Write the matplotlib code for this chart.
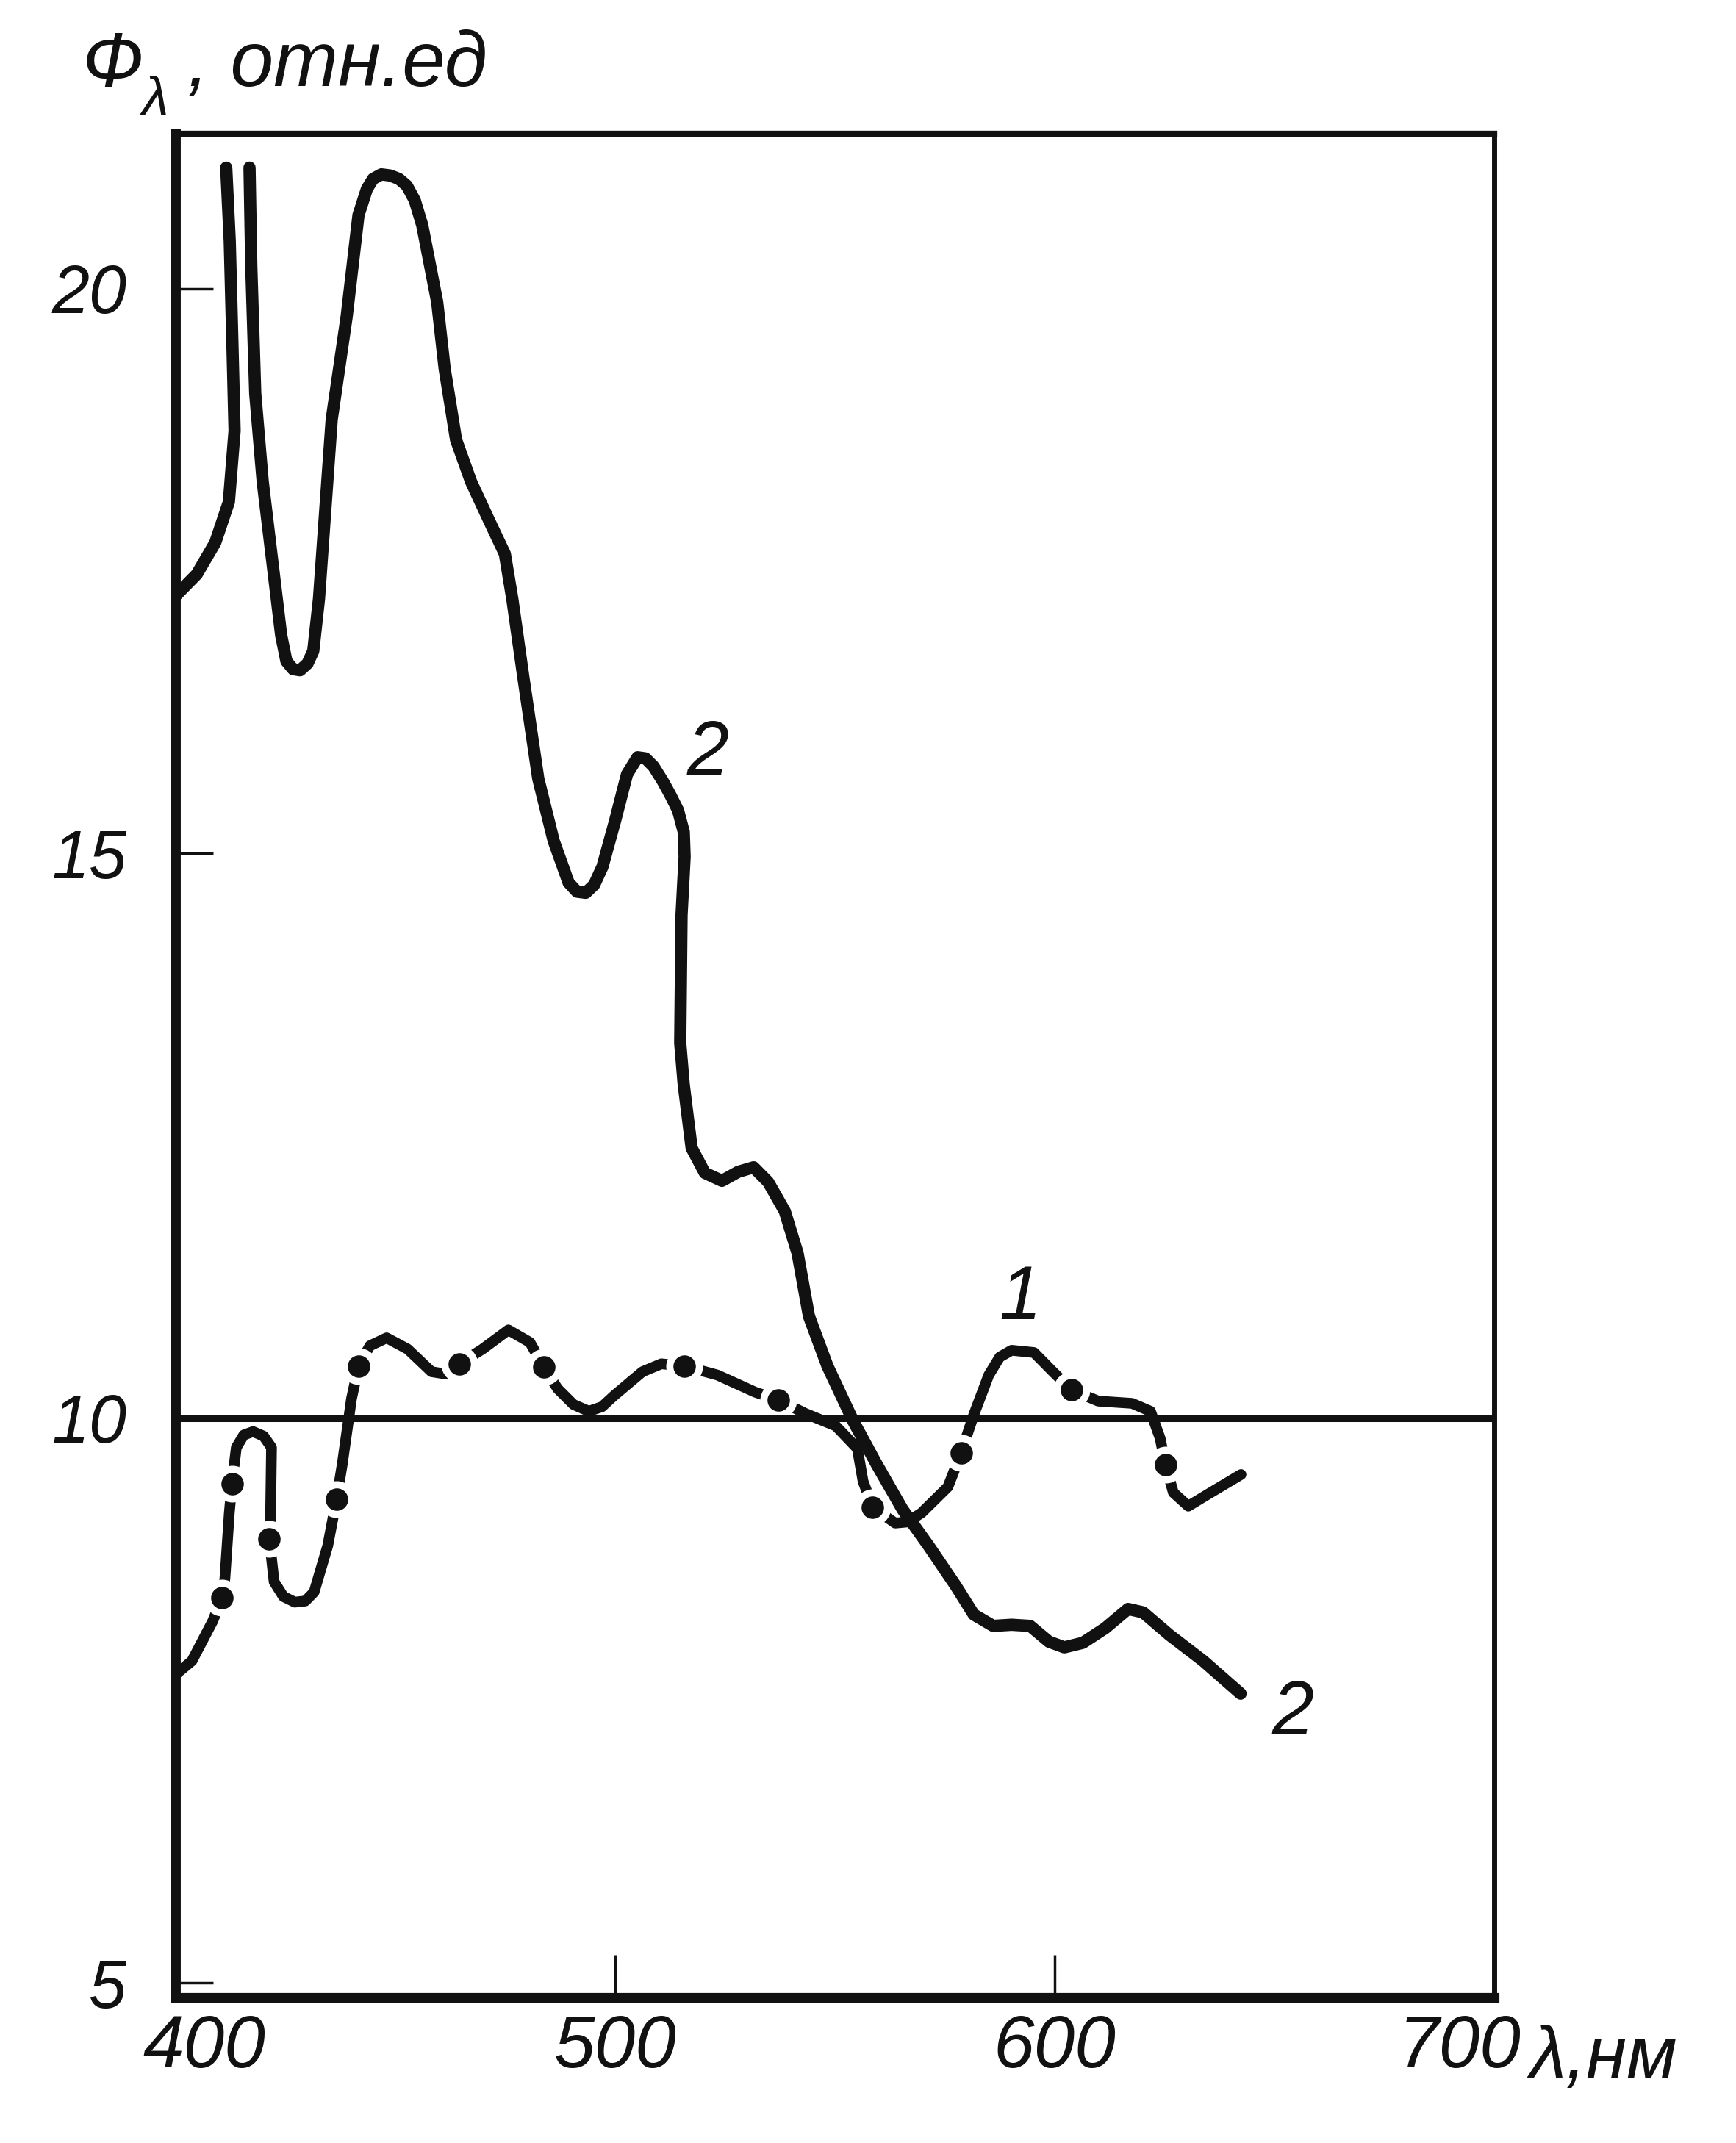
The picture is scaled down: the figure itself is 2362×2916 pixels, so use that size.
import numpy as np
import matplotlib.pyplot as plt
from matplotlib.transforms import ScaledTranslation

plt.rcParams['font.family'] = ['Liberation Sans', 'DejaVu Sans']

# curve 2, left branch (runs off the top of the scale)
c2a_x = [400.0, 404.8, 409.0, 412.1, 413.4, 412.9, 412.3, 411.5]
c2a_y = [17.28, 17.47, 17.75, 18.11, 18.74, 19.52, 20.42, 21.07]

# curve 2, main branch
c2b_x = [416.8, 417.2, 418.1, 419.8, 421.9, 424.0, 425.2, 426.7, 428.3, 430.0,
         431.3, 432.6, 435.5, 438.9, 441.6, 443.5, 444.9, 446.8, 448.8, 450.8,
         452.6, 454.4, 456.1, 459.5, 461.2, 463.8, 467.2, 471.5, 474.9, 476.6,
         479.1, 482.5, 486.0, 489.4, 491.3, 493.3, 495.2, 497.1, 500.0, 502.7,
         505.1, 506.9, 508.7, 510.8, 512.5, 514.3, 515.6, 515.8, 515.1, 514.8,
         515.6, 517.4, 520.4, 524.3, 528.0, 531.5, 534.8, 538.6, 541.5, 544.1,
         548.3, 554.2, 559.5, 565.4, 571.3, 577.4, 581.6, 586.0, 590.2, 594.4,
         598.7, 602.2, 606.4, 611.5, 616.7, 620.1, 626.1, 633.8, 642.3]
c2b_y = [21.07, 20.20, 19.07, 18.29, 17.61, 16.93, 16.70, 16.63, 16.62, 16.68,
         16.79, 17.25, 18.84, 19.75, 20.65, 20.88, 20.97, 21.01, 21.00, 20.97,
         20.91, 20.78, 20.56, 19.88, 19.29, 18.66, 18.29, 17.93, 17.65, 17.25,
         16.56, 15.66, 15.11, 14.74, 14.66, 14.65, 14.72, 14.88, 15.29, 15.70,
         15.85, 15.84, 15.77, 15.64, 15.52, 15.38, 15.19, 14.97, 14.45, 13.32,
         12.95, 12.39, 12.17, 12.10, 12.18, 12.22, 12.09, 11.83, 11.46, 10.90,
         10.46, 9.97, 9.59, 9.19, 8.87, 8.52, 8.26, 8.16, 8.17, 8.16,
         8.02, 7.97, 8.01, 8.14, 8.31, 8.28, 8.08, 7.85, 7.56]

# curve 1
c1_x = [400.0, 403.7, 408.4, 410.6, 411.2, 412.2, 412.8, 413.8, 415.5, 417.6,
        420.0, 421.8, 421.6, 421.3, 422.4, 424.5, 427.1, 429.5, 431.5, 434.6,
        436.6, 437.9, 440.0, 441.6, 444.2, 448.0, 452.8, 458.2, 461.4, 464.5,
        469.8, 475.7, 480.6, 483.8, 486.9, 490.5, 494.0, 497.0, 499.8, 506.2,
        510.5, 515.8, 523.3, 531.8, 537.1, 543.3, 550.2, 555.1, 556.4, 558.6,
        563.7, 566.5, 569.7, 575.7, 578.7, 581.6, 585.0, 587.5, 590.2, 595.3,
        599.6, 603.8, 609.9, 617.6, 621.8, 624.0, 625.2, 627.0, 630.4, 635.5,
        642.4]
c1_y = [7.73, 7.85, 8.20, 8.41, 8.58, 9.16, 9.42, 9.74, 9.85, 9.88,
        9.84, 9.74, 9.16, 8.93, 8.55, 8.42, 8.37, 8.38, 8.46, 8.87,
        9.28, 9.59, 10.17, 10.46, 10.64, 10.71, 10.61, 10.41, 10.39, 10.48,
        10.61, 10.78, 10.67, 10.45, 10.26, 10.12, 10.06, 10.10, 10.20, 10.41,
        10.48, 10.46, 10.38, 10.23, 10.16, 10.04, 9.93, 9.73, 9.44, 9.21,
        9.07, 9.08, 9.16, 9.39, 9.69, 10.03, 10.38, 10.54, 10.60, 10.58,
        10.41, 10.25, 10.15, 10.13, 10.06, 9.82, 9.59, 9.34, 9.22, 9.34,
        9.50]

# measured points marked on curve 1
dot_x = [410.6, 412.8, 421.3, 436.6, 441.6, 464.5, 483.8, 515.8, 537.1, 558.6,
         578.7, 603.8, 625.2]
dot_y = [8.41, 9.42, 8.93, 9.28, 10.46, 10.48, 10.45, 10.46, 10.16, 9.21,
         9.69, 10.25, 9.59]

xticks = [400, 500, 600, 700]
yticks = [5, 10, 15, 20]
ref_level = 10

fig = plt.figure(figsize=(23.62, 29.16), dpi=100)
ax = fig.add_axes([0.1012, 0.0679, 0.7595, 0.8697])

ink = '#111111'

# curve 1: line broken around each dot
ax.plot(c1_x, c1_y, color=ink, lw=10.5, solid_capstyle='round',
        solid_joinstyle='round', zorder=2)
ax.plot(dot_x, dot_y, 'o', color='white', ms=36, mew=0, zorder=3)
ax.plot(dot_x, dot_y, 'o', color=ink, ms=22, mew=0, zorder=4)

# curve 2
for xs, ys in [(c2a_x, c2a_y), (c2b_x, c2b_y)]:
    ax.plot(xs, ys, color=ink, lw=12, solid_capstyle='round',
            solid_joinstyle='round', zorder=5)

ax.axhline(ref_level, color=ink, lw=6.5, zorder=5)

ax.set_xlim(400, 700)
ax.set_ylim(4.87, 21.37)
ax.set_xticks(xticks)
ax.set_yticks(yticks)
ax.set_xticklabels([str(v) for v in xticks], fontsize=72, style='italic')
ax.set_yticklabels([str(v) for v in yticks], fontsize=66, style='italic')
ax.tick_params(axis='x', direction='in', length=42, width=2.5, pad=16, colors=ink)
ax.tick_params(axis='y', direction='in', length=37, width=2.5, pad=48, colors=ink)

# shift first and last x labels like in the drawing
lbls = ax.get_xticklabels()
lbls[0].set_transform(lbls[0].get_transform() + ScaledTranslation(28 / 72, 0, fig.dpi_scale_trans))
lbls[-1].set_transform(lbls[-1].get_transform() + ScaledTranslation(-34 / 72, 0, fig.dpi_scale_trans))

ax.spines['left'].set_linewidth(10)
ax.spines['bottom'].set_linewidth(9.5)
ax.spines['top'].set_linewidth(6)
ax.spines['right'].set_linewidth(5)
for s in ax.spines.values():
    s.set_color(ink)

# curve numbers
ax.text(521.1, 15.87, '2', fontsize=74, style='italic', ha='center', va='center', color=ink)
ax.text(654.2, 7.37, '2', fontsize=74, style='italic', ha='center', va='center', color=ink)
ax.text(592.2, 11.05, '1', fontsize=74, style='italic', ha='center', va='center', color=ink)

# axis titles
fig.text(112 / 2362, 1 - 117 / 2916, 'Ф', fontsize=76, style='italic', ha='left', va='baseline', color=ink)
fig.text(192 / 2362, 1 - 157 / 2916, 'λ', fontsize=54, style='italic', ha='left', va='baseline', color=ink)
fig.text(255 / 2362, 1 - 117 / 2916, ', отн.ед', fontsize=76, style='italic', ha='left', va='baseline', color=ink)
fig.text(2082 / 2362, 1 - 2828 / 2916, 'λ,нм', fontsize=72, style='italic', ha='left', va='baseline', color=ink)

fig.savefig('out.png', dpi=100, facecolor='white')
